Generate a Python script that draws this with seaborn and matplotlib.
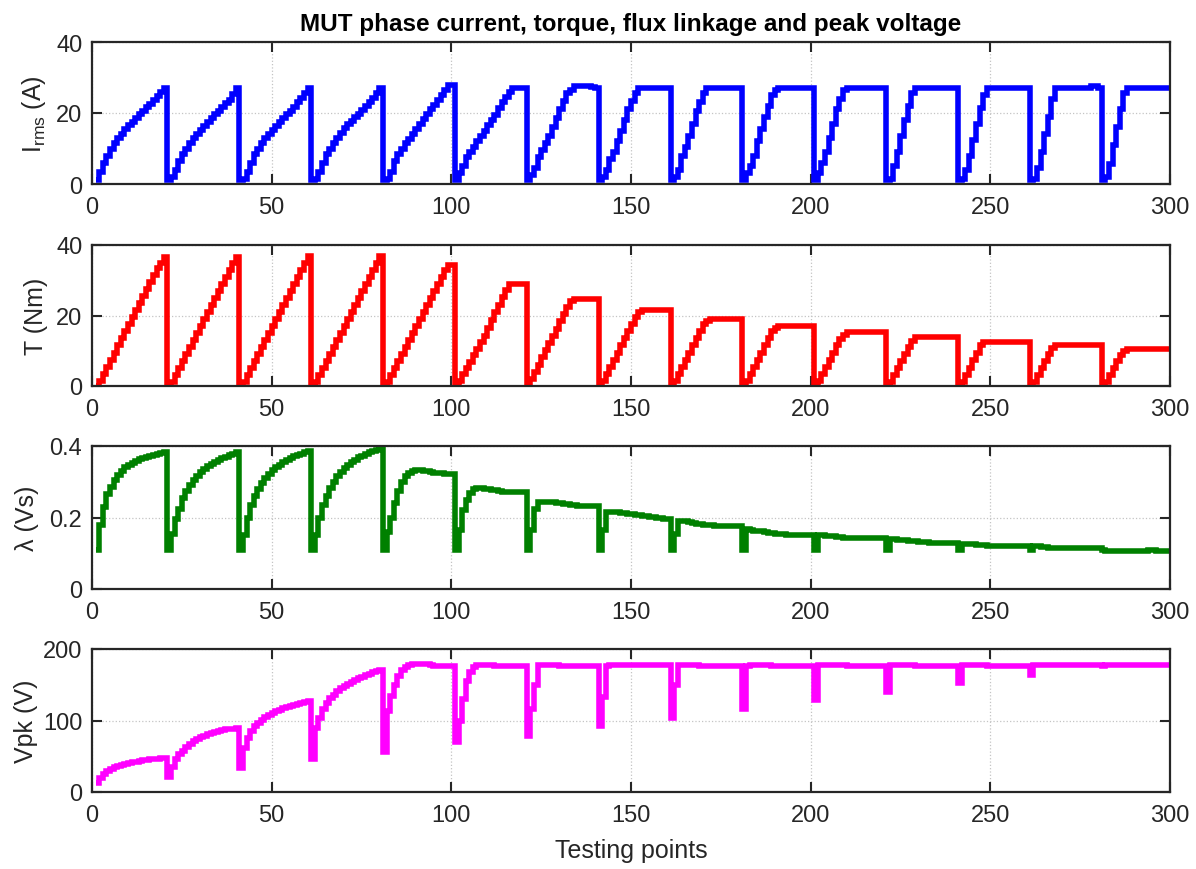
import numpy as np
import pandas as pd
import matplotlib
matplotlib.use("Agg")
import matplotlib.pyplot as plt
import seaborn as sns

sns.set_theme(style="ticks")
plt.rcParams['font.family'] = ['Liberation Sans', 'DejaVu Sans']
plt.rcParams['mathtext.default'] = 'regular'

# Testing points 1..300, 15 speed steps of 20 current steps each
testing_points = list(range(1, 301))

# Phase current (A), one line per speed step
current_rms = [
    1, 3.5, 6, 8, 10, 11.5, 13, 14.2, 15.4, 16.6, 17.6, 18.6, 19.6, 20.6, 21.6, 22.6, 23.6, 24.8, 26, 27,
    1, 2, 4, 6.5, 8.5, 10, 11.5, 13, 14, 15.2, 16.3, 17.4, 18.5, 19.6, 20.7, 21.8, 22.8, 23.8, 25.4, 27,
    1, 1.5, 3.5, 6, 8.5, 10, 11.5, 13, 14.2, 15.3, 16.4, 17.5, 18.5, 19.6, 20.7, 21.8, 23, 24.2, 25.6, 27,
    1, 1.5, 3.5, 6, 8.5, 10, 11.5, 13, 14.5, 15.7, 16.8, 17.8, 18.8, 19.8, 20.8, 21.9, 23, 24.3, 25.7, 27,
    1, 1.5, 3.5, 6.5, 8.5, 10, 11.5, 12.8, 14, 15.4, 16.8, 18.2, 19.6, 21, 22.3, 23.6, 25, 26.5, 28, 28,
    1, 3, 5, 7.5, 9, 10.5, 12, 13.5, 15, 16.5, 18, 19.5, 21.5, 23, 24.5, 26, 27, 27, 27, 27,
    1, 2.5, 4.5, 7.5, 9.5, 11.5, 13.5, 16, 18.5, 21, 23.5, 25.5, 26.5, 27.5, 27.5, 27.5, 27.5, 27.5, 27.2, 27,
    1, 2, 4, 7, 9, 12, 15, 18, 21, 23.5, 25.5, 27, 27, 27, 27, 27, 27, 27, 27, 27,
    1, 2, 4, 8, 10.5, 13.5, 17, 20.5, 23, 25.5, 27, 27, 27, 27, 27, 27, 27, 27, 27, 27,
    1, 3, 5, 8, 12, 15.5, 19, 22, 25, 26.5, 27, 27, 27, 27, 27, 27, 27, 27, 27, 27,
    1, 3, 6, 9, 13, 17, 21, 24, 26.5, 27, 27, 27, 27, 27, 27, 27, 27, 27, 27, 27,
    1, 1.5, 5, 9, 13.5, 18, 22, 25.5, 27, 27, 27, 27, 27, 27, 27, 27, 27, 27, 27, 27,
    1, 1.5, 4, 8, 12.5, 17, 21.5, 25, 27, 27, 27, 27, 27, 27, 27, 27, 27, 27, 27, 27,
    1, 1.5, 4.5, 9, 14, 19, 24, 27, 27, 27, 27, 27, 27, 27, 27, 27, 27, 27.5, 27.5, 27,
    1, 2, 5.5, 11, 16, 21, 25.5, 27, 27, 27, 27, 27, 27, 27, 27, 27, 27, 27, 27, 27,
]

# Torque (Nm)
torque = [
    0, 1.5, 3.5, 5.5, 7.5, 9.5, 11.5, 13.5, 15.5, 17.5, 19.5, 21.5, 23.5, 25.5, 27.5, 29.5, 31.5, 33.5, 35, 36.7,
    0, 1, 3, 5, 7, 9, 11, 13, 15, 17, 19, 21, 23, 25, 27, 29, 31, 33, 35, 36.7,
    0, 1, 3, 5, 7, 9, 11, 13, 15, 17, 19, 21, 23, 25, 27, 29, 31, 33, 35, 36.8,
    0, 1, 3, 5, 7, 9, 11, 13, 15, 17, 19, 21, 23, 25, 27, 29, 31, 33, 35, 36.8,
    0, 1, 3, 5, 7, 9, 11, 13, 15, 17, 19, 21, 23, 25, 27, 29, 31, 33, 34.3, 34.3,
    0, 1.5, 3.3, 5.1, 6.9, 8.7, 10.5, 12.4, 14.3, 16.5, 18.7, 20.9, 23, 25.2, 27.3, 29, 29, 29, 29, 29,
    0, 2, 4, 6, 8.2, 10.2, 12.2, 14.3, 16.3, 18.4, 20.4, 22.5, 24, 24.8, 24.8, 24.8, 24.8, 24.8, 24.8, 24.8,
    0, 1.5, 3.5, 5.5, 7.5, 9.5, 11.5, 13.5, 15.5, 17.5, 19.5, 21, 21.7, 21.7, 21.7, 21.7, 21.7, 21.7, 21.7, 21.7,
    0, 1.5, 3.5, 5.5, 7.5, 9.5, 11.5, 13.5, 15.5, 17.5, 18.5, 19, 19, 19, 19, 19, 19, 19, 19, 19,
    0, 1.5, 3.5, 5.5, 7.5, 9.5, 11.5, 13.5, 15.5, 16.5, 17, 17, 17, 17, 17, 17, 17, 17, 17, 17,
    0, 1.5, 3.5, 5.5, 7.5, 9.5, 11.5, 13.3, 14.6, 15.2, 15.2, 15.2, 15.2, 15.2, 15.2, 15.2, 15.2, 15.2, 15.2, 15.2,
    0, 1, 3, 5, 7, 9, 11, 12.8, 13.8, 13.8, 13.8, 13.8, 13.8, 13.8, 13.8, 13.8, 13.8, 13.8, 13.8, 13.8,
    0, 1, 3, 5, 7.5, 9.5, 11.5, 12.6, 12.6, 12.6, 12.6, 12.6, 12.6, 12.6, 12.6, 12.6, 12.6, 12.6, 12.6, 12.6,
    0, 1, 3, 5, 7, 9, 10.8, 11.6, 11.6, 11.6, 11.6, 11.6, 11.6, 11.6, 11.6, 11.6, 11.6, 11.6, 11.6, 11.6,
    0, 1, 3, 5, 7, 8.8, 10, 10.5, 10.5, 10.5, 10.5, 10.5, 10.5, 10.5, 10.5, 10.5, 10.5, 10.5, 10.5, 10.5,
]

# Flux linkage (Vs)
flux_linkage = [
    0.11, 0.18, 0.23, 0.265, 0.285, 0.305, 0.318, 0.33, 0.34, 0.347, 0.353, 0.358, 0.363, 0.367, 0.37, 0.373, 0.376, 0.378, 0.38, 0.382,
    0.11, 0.155, 0.195, 0.225, 0.255, 0.275, 0.29, 0.305, 0.317, 0.327, 0.336, 0.344, 0.35, 0.356, 0.361, 0.366, 0.37, 0.374, 0.378, 0.382,
    0.11, 0.15, 0.2, 0.235, 0.26, 0.28, 0.297, 0.31, 0.322, 0.332, 0.341, 0.348, 0.355, 0.361, 0.366, 0.371, 0.375, 0.379, 0.383, 0.386,
    0.11, 0.15, 0.2, 0.235, 0.26, 0.282, 0.3, 0.315, 0.327, 0.338, 0.347, 0.355, 0.362, 0.368, 0.373, 0.378, 0.382, 0.385, 0.388, 0.391,
    0.11, 0.16, 0.2, 0.24, 0.275, 0.3, 0.315, 0.325, 0.33, 0.332, 0.332, 0.331, 0.33, 0.327, 0.325, 0.325, 0.324, 0.323, 0.322, 0.322,
    0.11, 0.165, 0.222, 0.25, 0.268, 0.28, 0.282, 0.282, 0.281, 0.28, 0.277, 0.276, 0.275, 0.272, 0.271, 0.271, 0.27, 0.27, 0.27, 0.27,
    0.11, 0.165, 0.225, 0.243, 0.243, 0.243, 0.243, 0.242, 0.241, 0.24, 0.238, 0.238, 0.236, 0.234, 0.233, 0.233, 0.233, 0.233, 0.233, 0.233,
    0.11, 0.165, 0.214, 0.216, 0.215, 0.214, 0.213, 0.212, 0.211, 0.21, 0.208, 0.206, 0.204, 0.203, 0.202, 0.201, 0.2, 0.198, 0.197, 0.197,
    0.11, 0.155, 0.19, 0.19, 0.189, 0.187, 0.184, 0.182, 0.181, 0.18, 0.179, 0.178, 0.177, 0.177, 0.176, 0.176, 0.176, 0.176, 0.176, 0.176,
    0.11, 0.167, 0.165, 0.163, 0.162, 0.161, 0.16, 0.158, 0.156, 0.154, 0.153, 0.153, 0.152, 0.152, 0.152, 0.152, 0.152, 0.152, 0.152, 0.152,
    0.11, 0.15, 0.15, 0.149, 0.148, 0.147, 0.146, 0.145, 0.144, 0.143, 0.143, 0.143, 0.143, 0.143, 0.143, 0.143, 0.143, 0.143, 0.143, 0.143,
    0.11, 0.139, 0.139, 0.138, 0.137, 0.136, 0.135, 0.134, 0.133, 0.132, 0.131, 0.131, 0.13, 0.13, 0.13, 0.13, 0.13, 0.13, 0.13, 0.13,
    0.11, 0.127, 0.127, 0.126, 0.125, 0.124, 0.123, 0.122, 0.121, 0.121, 0.12, 0.12, 0.12, 0.12, 0.12, 0.12, 0.12, 0.12, 0.12, 0.12,
    0.11, 0.119, 0.119, 0.118, 0.117, 0.116, 0.116, 0.115, 0.115, 0.114, 0.114, 0.114, 0.114, 0.114, 0.114, 0.114, 0.114, 0.114, 0.114, 0.114,
    0.11, 0.107, 0.106, 0.106, 0.105, 0.105, 0.105, 0.105, 0.105, 0.105, 0.105, 0.105, 0.105, 0.11, 0.11, 0.107, 0.106, 0.106, 0.105, 0.105,
]

# Peak voltage (V)
peak_voltage = [
    12, 19, 25, 29, 32, 34.5, 36.5, 38, 39.5, 40.5, 41.5, 42.5, 43.5, 44.5, 45, 45.5, 46, 46.5, 47, 47.5,
    21, 35, 46, 53, 58, 63, 67, 71, 74, 77, 79, 81, 83, 84.5, 85.5, 86.5, 87.5, 88, 88.5, 89,
    33, 62, 76, 85, 92, 97, 101, 105, 108, 111, 113, 115, 117, 119, 120.5, 122, 123.5, 125, 126, 127,
    46, 90, 104, 116, 124, 131, 136, 141, 145, 148, 151, 154, 157, 159.5, 161.5, 163.5, 165.5, 167.5, 169, 171,
    56, 113, 134, 150, 162, 170, 175, 178, 179, 179, 179, 179, 179, 178, 176, 176, 176, 176, 176, 176,
    70, 100, 130, 155, 168, 175, 178, 178, 178, 178, 177, 176.5, 176.5, 176.5, 176.5, 176.5, 176.5, 176.5, 176.5, 176.5,
    79, 116, 150, 178, 178, 178, 178, 178, 177, 176, 176, 176, 176, 176, 176, 176, 176, 176, 176, 176,
    92, 133, 176, 178, 178, 178, 177, 177, 177, 177, 177, 177, 177, 177, 177, 177, 177, 177, 177, 177,
    103, 150, 178, 178, 178, 178, 178, 177, 176, 176, 176, 176, 176, 176, 176, 176, 176, 176, 176, 176,
    116, 176, 178, 178, 178, 178, 178, 177, 176, 176, 176, 176, 176, 176, 176, 176, 176, 176, 176, 176,
    129, 178, 178, 178, 178, 178, 178, 178, 178, 176, 176, 176, 176, 176, 176, 176, 176, 176, 176, 176,
    140, 178, 178, 178, 178, 178, 178, 178, 176, 176, 176, 176, 176, 176, 176, 176, 176, 176, 176, 176,
    153, 178, 178, 178, 178, 178, 178, 178, 176, 176, 176, 176, 176, 176, 176, 176, 176, 176, 176, 176,
    164, 178, 178, 178, 177, 177, 178, 178, 178, 178, 178, 177, 177, 177, 177, 177, 177, 177, 177, 177,
    176, 177, 177, 177, 177, 177, 177, 177, 177, 177, 177, 177, 177, 177, 177, 177, 177, 177, 177, 177,
]

df = pd.DataFrame({
    "point": testing_points,
    "current": current_rms,
    "torque": torque,
    "flux": flux_linkage,
    "vpk": peak_voltage,
})

# column, colour, y label, y ticks, tick labels, y limits, label x position
panels = [
    ("current", "#0000ff", r"$\mathregular{I_{rms}}$ (A)", [0, 20, 40], ["0", "20", "40"], (0, 40), -0.041),
    ("torque", "#ff0000", "T (Nm)", [0, 20, 40], ["0", "20", "40"], (0, 40), -0.041),
    ("flux", "#008000", "λ (Vs)", [0, 0.2, 0.4], ["0", "0.2", "0.4"], (0, 0.4), -0.049),
    ("vpk", "#ff00ff", "Vpk (V)", [0, 100, 200], ["0", "100", "200"], (0, 200), -0.050),
]

# axes boxes in figure pixels (top, bottom)
W, H = 1196, 870
boxes = [(43, 185), (246, 387), (447, 590), (650, 793)]
left_px, right_px = 92, 1170
dark = "#262626"

fig = plt.figure(figsize=(W / 100, H / 100), dpi=100)
fig.patch.set_facecolor("white")

axes = []
for (col, color, ylab, yt, ytl, ylim, lab_x), (top, bot) in zip(panels, boxes):
    ax = fig.add_axes([left_px / W, 1 - bot / H, (right_px - left_px) / W, (bot - top) / H])
    sns.lineplot(data=df, x="point", y=col, ax=ax, color=color, linewidth=4.0,
                 drawstyle="steps-post", estimator=None, legend=False,
                 solid_joinstyle="miter", solid_capstyle="butt")
    ax.set_xlim(0, 300)
    ax.set_ylim(*ylim)
    ax.set_xticks([0, 50, 100, 150, 200, 250, 300])
    ax.set_yticks(yt)
    ax.set_yticklabels(ytl)
    ax.set_xlabel("")
    ax.set_ylabel(ylab, fontsize=18, color=dark)
    ax.yaxis.set_label_coords(lab_x, 0.5)
    ax.grid(True, color="#c4c4c4", linewidth=0.9, linestyle=":")
    ax.set_axisbelow(True)
    ax.tick_params(direction="in", top=True, right=True, length=7, width=1.5,
                   colors=dark, labelsize=17, pad=7)
    ax.tick_params(axis="x", pad=9)
    for sp in ax.spines.values():
        sp.set_visible(True)
        sp.set_linewidth(1.6)
        sp.set_color(dark)
    axes.append(ax)

axes[0].set_title("MUT phase current, torque, flux linkage and peak voltage",
                  fontsize=17.5, fontweight="bold", color="black", pad=8.5)
axes[-1].set_xlabel("Testing points", fontsize=18, color=dark, labelpad=8)

fig.savefig("out.png", dpi=100, facecolor="white")
